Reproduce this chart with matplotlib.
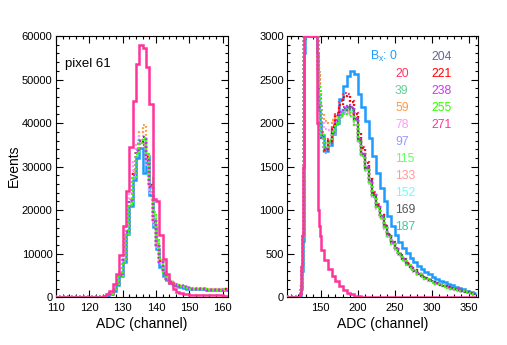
import numpy as np
import matplotlib
matplotlib.use('Agg')
import matplotlib.pyplot as plt
from matplotlib.ticker import MultipleLocator

plt.rcParams['font.family'] = ['Liberation Sans', 'DejaVu Sans']
plt.rcParams['mathtext.fontset'] = 'custom'
plt.rcParams['mathtext.rm'] = 'Liberation Sans'
plt.rcParams['mathtext.it'] = 'Liberation Sans:italic'

# ---------------- data ----------------
# fine bins: 1 channel wide, channels 118..149 ; coarse bins: 5 channels wide, 150..355
bfield = [0, 20, 39, 59, 78, 97, 115, 133, 152, 169, 187, 204, 221, 238, 255, 271]
colors = ['#1E9BFF', '#FF3366', '#66CC99', '#FF9944', '#FF99FF', '#9999FF', '#66FF66',
          '#FF9999', '#66FFFF', '#555555', '#33CC99', '#666699', '#FF0000', '#CC33FF',
          '#33FF00', '#FF3399']

fine_0 = [0, 0, 0, 0, 10, 30, 100, 300, 650, 1400, 2800, 5000, 8000, 14500, 21000, 27000,
          32000, 34300, 28500, 32500, 23500, 16200, 11200, 7000, 5000, 3900, 3200, 2800,
          2500, 2300, 2150, 2000]
coarse_0 = [1850, 1680, 1750, 1880, 2000, 2280, 2430, 2540, 2600, 2560, 2330, 2180, 2020,
            1830, 1620, 1430, 1260, 1110, 930, 820, 720, 640, 565, 510, 455, 410, 360, 325,
            290, 262, 238, 210, 190, 170, 155, 138, 122, 107, 93, 78, 65, 52]

fine_20 = [0, 0, 0, 0, 10, 40, 120, 350, 700, 1500, 3000, 5200, 8600, 15000, 22000, 28500,
           34000, 35500, 35000, 32000, 25500, 17500, 12000, 8200, 5600, 4300, 3500, 3100,
           2850, 2600, 2400, 2200]
coarse_20 = [1900, 1720, 1820, 1980, 2120, 2250, 2340, 2330, 2250, 2120, 1900, 1720, 1550,
             1370, 1210, 1075, 950, 830, 730, 640, 568, 502, 442, 392, 350, 310, 277, 247,
             221, 198, 178, 160, 144, 130, 116, 103, 91, 80, 70, 59, 49, 41]

fine_39 = [0, 0, 0, 0, 10, 40, 120, 340, 690, 1480, 2950, 5150, 8500, 14800, 21800, 27800,
           33200, 35800, 36200, 31800, 25800, 17800, 12100, 8300, 5650, 4350, 3550, 3120,
           2870, 2620, 2420, 2220]
coarse_39 = [1830, 1680, 1760, 1890, 1990, 2090, 2140, 2170, 2140, 2030, 1810, 1650, 1490,
             1330, 1170, 1040, 925, 812, 712, 628, 558, 493, 433, 384, 342, 304, 271, 242,
             217, 194, 175, 157, 141, 127, 114, 101, 89, 78, 68, 57, 47, 39]

fine_59 = [0, 0, 0, 0, 10, 40, 110, 330, 680, 1450, 2900, 5100, 8500, 15200, 22500, 29000,
           35000, 38000, 39500, 33000, 26000, 17800, 12200, 8300, 5700, 4400, 3600, 3200,
           2950, 2750, 2550, 2350]
coarse_59 = [2100, 2020, 2000, 2040, 2080, 2110, 2130, 2140, 2100, 1980, 1790, 1630, 1470,
             1310, 1160, 1030, 915, 805, 705, 622, 552, 488, 430, 380, 339, 301, 268, 240,
             215, 193, 174, 156, 140, 126, 113, 100, 88, 77, 67, 57, 47, 39]

fine_78 = [0, 0, 0, 0, 15, 50, 140, 400, 800, 1700, 3300, 5800, 9500, 16500, 24000, 31000,
           35500, 37000, 35500, 30000, 24000, 16500, 11200, 7800, 5400, 4200, 3450, 3050,
           2800, 2600, 2380, 2200]
coarse_78 = [2000, 1930, 1920, 1960, 2010, 2060, 2100, 2120, 2090, 1980, 1780, 1610, 1450,
             1290, 1140, 1010, 895, 785, 690, 608, 540, 478, 420, 372, 332, 295, 262, 234,
             210, 188, 170, 152, 137, 123, 110, 98, 86, 75, 65, 55, 46, 38]

fine_97 = [0, 0, 0, 0, 10, 45, 130, 360, 720, 1520, 3050, 5300, 8800, 15300, 22300, 28300,
           33800, 36200, 36300, 31200, 25200, 17200, 11800, 8100, 5550, 4250, 3480, 3080,
           2830, 2580, 2380, 2180]
coarse_97 = [1820, 1660, 1750, 1880, 1980, 2080, 2130, 2160, 2130, 2020, 1790, 1630, 1470,
             1310, 1160, 1030, 915, 805, 708, 624, 555, 490, 430, 381, 340, 302, 269, 240,
             215, 193, 174, 156, 140, 126, 113, 100, 88, 77, 67, 56, 46, 38]

fine_115 = [0, 0, 0, 0, 10, 35, 110, 330, 670, 1450, 2900, 5000, 8300, 14500, 21500, 27500,
            33000, 35500, 36800, 32500, 27000, 19000, 12800, 8600, 5800, 4400, 3550, 3150,
            2880, 2620, 2420, 2210]
coarse_115 = [1860, 1710, 1790, 1910, 2010, 2100, 2150, 2170, 2130, 2020, 1800, 1640, 1480,
              1320, 1170, 1040, 925, 810, 712, 627, 557, 492, 432, 383, 341, 303, 270, 241,
              216, 193, 174, 156, 141, 127, 114, 101, 89, 78, 68, 57, 47, 39]

fine_133 = [0, 0, 0, 0, 10, 40, 125, 355, 710, 1510, 3020, 5250, 8700, 15100, 22100, 28100,
            33600, 36100, 36600, 31600, 25600, 17600, 12050, 8250, 5620, 4320, 3520, 3110,
            2860, 2610, 2410, 2210]
coarse_133 = [1840, 1690, 1770, 1890, 1990, 2090, 2140, 2170, 2140, 2040, 1800, 1640, 1480,
              1320, 1165, 1035, 920, 808, 710, 626, 556, 491, 432, 383, 341, 303, 270, 241,
              216, 194, 175, 157, 141, 127, 114, 101, 89, 78, 68, 57, 47, 39]

fine_152 = [0, 0, 0, 0, 10, 38, 118, 345, 695, 1490, 2980, 5180, 8550, 14900, 21900, 27900,
            33400, 35900, 36400, 31400, 25400, 17400, 11950, 8150, 5580, 4280, 3490, 3090,
            2840, 2590, 2390, 2190]
coarse_152 = [1835, 1685, 1765, 1885, 1985, 2085, 2135, 2165, 2135, 2025, 1795, 1635, 1475,
              1315, 1160, 1030, 915, 803, 706, 622, 553, 488, 429, 380, 339, 301, 268, 239,
              214, 192, 173, 155, 140, 126, 113, 100, 88, 77, 67, 56, 46, 38]

fine_169 = [0, 0, 0, 0, 10, 40, 120, 350, 700, 1500, 3000, 5200, 8600, 15000, 22000, 28000,
            33500, 36000, 36700, 31700, 25700, 17600, 12000, 8200, 5600, 4300, 3500, 3100,
            2850, 2600, 2400, 2200]
coarse_169 = [1850, 1700, 1790, 1910, 2020, 2110, 2170, 2200, 2170, 2050, 1810, 1650, 1490,
              1330, 1175, 1045, 928, 815, 716, 631, 561, 496, 436, 386, 344, 306, 273, 244,
              219, 196, 177, 159, 143, 129, 116, 103, 91, 80, 70, 59, 49, 41]

fine_187 = [0, 0, 0, 0, 12, 42, 125, 360, 710, 1520, 3020, 5250, 8650, 15100, 22100, 28100,
            33600, 36100, 36400, 31400, 25400, 17450, 11950, 8180, 5590, 4290, 3500, 3100,
            2850, 2600, 2400, 2200]
coarse_187 = [1845, 1695, 1775, 1895, 1995, 2095, 2145, 2175, 2145, 2035, 1805, 1645, 1485,
              1325, 1170, 1040, 922, 810, 712, 628, 558, 493, 434, 385, 343, 305, 272, 243,
              218, 195, 176, 158, 142, 128, 115, 102, 90, 79, 69, 58, 48, 40]

fine_204 = [0, 0, 0, 0, 10, 40, 120, 350, 700, 1500, 3000, 5200, 8600, 15000, 22000, 28000,
            33500, 36000, 36300, 31300, 25300, 17300, 11900, 8100, 5550, 4260, 3470, 3080,
            2830, 2580, 2380, 2180]
coarse_204 = [1830, 1680, 1770, 1890, 1990, 2090, 2150, 2180, 2160, 2050, 1810, 1650, 1490,
              1330, 1175, 1045, 928, 815, 716, 631, 561, 496, 436, 386, 344, 306, 273, 244,
              219, 196, 177, 159, 143, 129, 116, 103, 91, 80, 70, 59, 49, 41]

fine_221 = [0, 0, 0, 0, 10, 40, 120, 350, 700, 1500, 3000, 5200, 8600, 15000, 22000, 28200,
            33700, 35800, 35600, 32300, 25800, 17700, 12100, 8250, 5620, 4310, 3510, 3100,
            2850, 2600, 2400, 2200]
coarse_221 = [1880, 1690, 1800, 1950, 2090, 2210, 2300, 2310, 2240, 2100, 1890, 1710, 1540,
              1360, 1200, 1065, 940, 822, 722, 636, 565, 500, 440, 390, 347, 308, 275, 245,
              220, 197, 177, 159, 143, 129, 116, 103, 91, 80, 70, 59, 49, 41]

fine_238 = [0, 0, 0, 0, 10, 40, 120, 350, 700, 1500, 3000, 5200, 8600, 15000, 22000, 28000,
            33500, 36000, 36400, 31500, 25500, 17500, 12000, 8200, 5600, 4300, 3500, 3100,
            2850, 2600, 2400, 2200]
coarse_238 = [1860, 1700, 1790, 1920, 2030, 2130, 2190, 2210, 2180, 2060, 1820, 1660, 1500,
              1340, 1180, 1050, 930, 818, 718, 633, 562, 497, 437, 387, 345, 307, 274, 245,
              219, 196, 177, 159, 143, 129, 116, 103, 91, 80, 70, 59, 49, 41]

fine_255 = [0, 0, 0, 0, 10, 35, 110, 320, 660, 1420, 2850, 4950, 8200, 14300, 21300, 27300,
            32800, 35400, 36600, 32800, 27500, 19500, 13200, 8800, 5900, 4450, 3580, 3160,
            2890, 2630, 2420, 2210]
coarse_255 = [1870, 1720, 1800, 1900, 1990, 2070, 2110, 2120, 2080, 1980, 1770, 1620, 1460,
              1300, 1150, 1020, 905, 795, 698, 615, 546, 482, 424, 376, 335, 298, 265, 237,
              212, 190, 171, 154, 139, 125, 112, 100, 88, 77, 67, 56, 46, 38]

fine_271 = [0, 0, 0, 0, 50, 150, 350, 700, 1500, 3000, 5300, 9800, 16300, 24500, 34400,
            45100, 53600, 58000, 57200, 52800, 44300, 22600, 22200, 14300, 8800, 5300, 3200,
            2000, 1300, 1000, 820, 700]
coarse_271 = [540, 430, 330, 250, 185, 130, 85, 55, 35, 20, 10, 5, 2, 0, 0, 0, 0, 0, 0, 0,
              0, 0, 0, 0, 0, 0, 0, 0, 0, 0, 0, 0, 0, 0, 0, 0, 0, 0, 0, 0, 0, 0]

fine_all = [fine_0, fine_20, fine_39, fine_59, fine_78, fine_97, fine_115, fine_133,
            fine_152, fine_169, fine_187, fine_204, fine_221, fine_238, fine_255, fine_271]
coarse_all = [coarse_0, coarse_20, coarse_39, coarse_59, coarse_78, coarse_97, coarse_115,
              coarse_133, coarse_152, coarse_169, coarse_187, coarse_204, coarse_221,
              coarse_238, coarse_255, coarse_271]

# bin edges: one empty leading bin [105,118), 1-channel bins 118..150, 5-channel bins 150..360
edges = np.concatenate([[105], np.arange(118, 150), np.arange(150, 361, 5)])

# ---------------- figure ----------------
W, H = 507, 345
fig = plt.figure(figsize=(W / 100, H / 100), dpi=100)

def fr(x0, x1, ytop, ybot):
    return [x0 / W, 1 - ybot / H, (x1 - x0) / W, (ybot - ytop) / H]

axL = fig.add_axes(fr(56, 227.7, 36, 297.3))
axR = fig.add_axes(fr(287.3, 477.7, 36, 297.3))

for ax, ymax in ((axL, None), (axR, 3000)):
    for i, b in enumerate(bfield):
        vals = np.concatenate([[0], fine_all[i], coarse_all[i]]).astype(float)
        if ymax is not None:
            vals = np.minimum(vals, ymax)
        if b == 0:
            ax.stairs(vals, edges, baseline=None, color=colors[i], lw=1.8, zorder=2)
        elif b == 271:
            ax.stairs(vals, edges, baseline=None, color=colors[i], lw=1.8, zorder=4)
        else:
            ax.stairs(vals, edges, baseline=None, color=colors[i], lw=1.6,
                      linestyle=(0, (0.8, 1.0)), zorder=3)

axL.set_xlim(110, 161.5)
axL.set_ylim(0, 60000)
axL.xaxis.set_major_locator(MultipleLocator(10))
axL.xaxis.set_minor_locator(MultipleLocator(2))
axL.yaxis.set_major_locator(MultipleLocator(10000))
axL.yaxis.set_minor_locator(MultipleLocator(2000))

axR.set_xlim(105, 362)
axR.set_ylim(0, 3000)
axR.xaxis.set_major_locator(MultipleLocator(50))
axR.xaxis.set_minor_locator(MultipleLocator(10))
axR.yaxis.set_major_locator(MultipleLocator(500))
axR.yaxis.set_minor_locator(MultipleLocator(100))

for ax in (axL, axR):
    ax.tick_params(which='both', direction='in', top=True, right=True, width=0.8,
                   labelsize=8, colors='black')
    ax.tick_params(which='major', length=5)
    ax.tick_params(which='minor', length=2.5)
    ax.tick_params(axis='x', pad=4)
    ax.tick_params(axis='y', pad=2.5)
    for s in ax.spines.values():
        s.set_linewidth(0.8)

# axis titles
fig.text(14 / W, 1 - 166 / H, 'Events', rotation=90, ha='center', va='center', fontsize=10)
fig.text((56 + 227.7) / 2 / W, 1 - 324 / H, 'ADC (channel)', ha='center', va='center',
         fontsize=10)
fig.text((287.3 + 477.7) / 2 / W, 1 - 324 / H, 'ADC (channel)', ha='center', va='center',
         fontsize=10)

axL.text(0.052, 0.881, 'pixel 61', transform=axL.transAxes, ha='left', va='baseline',
         fontsize=9.5)

# legend of field values
row0 = 0.9208
dy = 17.0 / 261.3
col1 = bfield[:11]
col2 = bfield[11:]
for k, b in enumerate(col1):
    y = row0 - k * dy
    c = colors[bfield.index(b)]
    if b == 0:
        axR.text(0.5814, y, r'B$_{\mathrm{x}}$: ' + str(b), transform=axR.transAxes,
                 ha='right', va='center', color=c, fontsize=8.8)
    else:
        axR.text(0.5657, y, str(b), transform=axR.transAxes, ha='left', va='center',
                 color=c, fontsize=8.8)
for k, b in enumerate(col2):
    y = row0 - k * dy
    c = colors[bfield.index(b)]
    axR.text(0.7584, y, str(b), transform=axR.transAxes, ha='left', va='center',
             color=c, fontsize=8.8)

fig.savefig('out.png', dpi=100)
